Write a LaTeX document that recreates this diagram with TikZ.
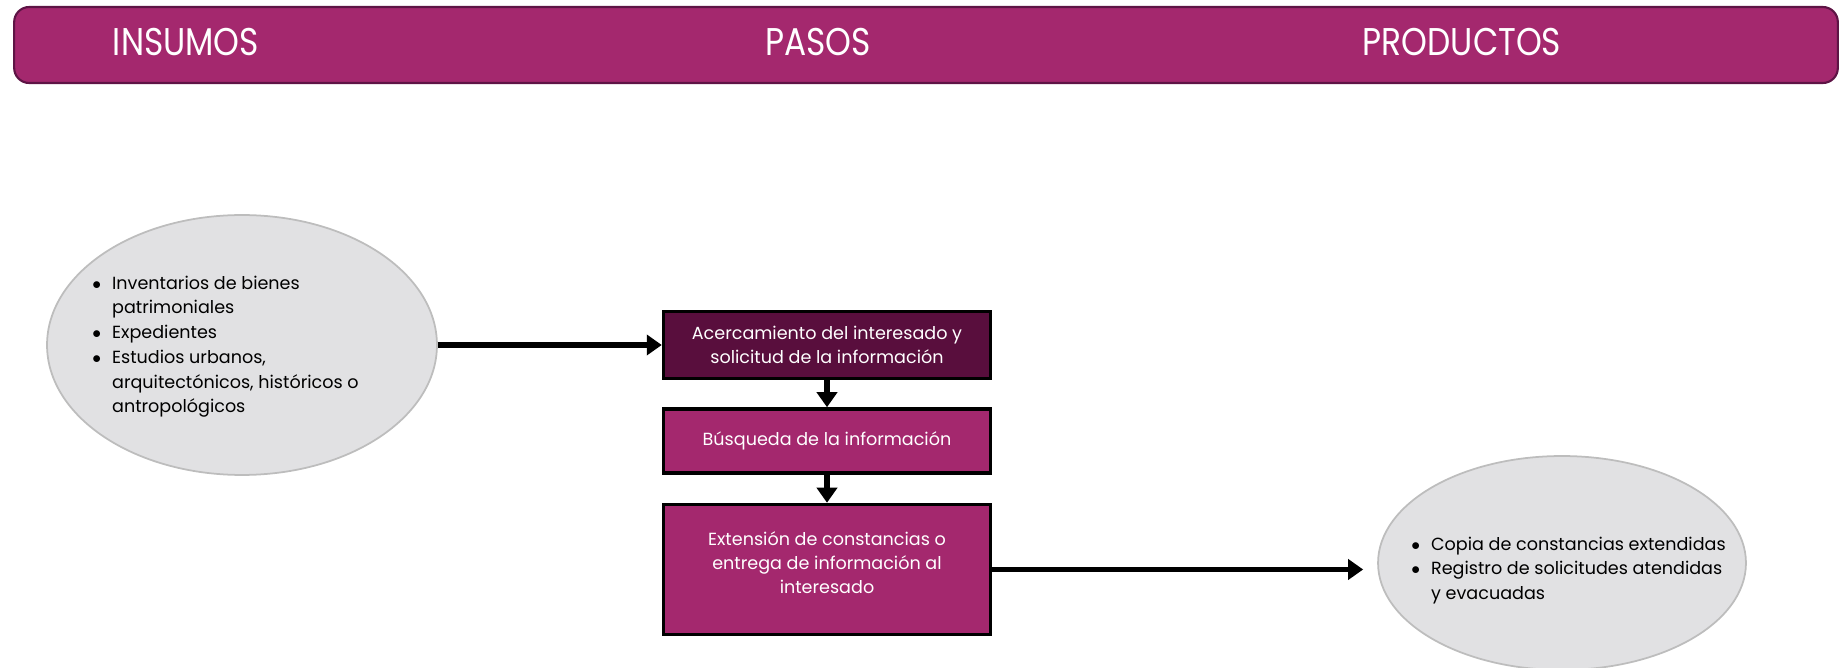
\documentclass[tikz,border=0pt]{standalone}
\usepackage{fontspec}
\setmainfont{Poppins}
\newfontfamily\headfont[FakeStretch=0.85]{Poppins}
\usetikzlibrary{shapes.geometric,arrows.meta,positioning}

\definecolor{morado}{HTML}{A4286E}
\definecolor{moradoOsc}{HTML}{590E3D}
\definecolor{bordeBanda}{HTML}{5E1445}
\definecolor{grisElipse}{HTML}{E1E1E3}
\definecolor{bordeElipse}{HTML}{BDBDBD}

\tikzset{
  banda/.style={draw=bordeBanda, line width=1.2pt, fill=morado, rounded corners=0.3cm,
    minimum width=36.48cm, minimum height=1.52cm},
  titulo/.style={text=white, font=\headfont\fontsize{22}{26}\selectfont},
  paso/.style={draw=black, line width=2pt, fill=morado, text=white, align=center,
    minimum width=6.54cm, inner sep=2pt, font=\fontsize{10}{13.6}\selectfont},
  elipse/.style={ellipse, draw=bordeElipse, line width=1pt, fill=grisElipse, inner sep=0pt},
  lista/.style={anchor=west, inner sep=0pt, font=\fontsize{10}{14.1}\selectfont},
  flecha/.style={line width=3.2pt, -{Triangle[length=0.3cm,width=0.4cm]}}
}
\newcommand{\vineta}{$\bullet$}

\begin{document}
\begin{tikzpicture}[x=0.02cm, y=-0.02cm]
  \useasboundingbox (0,0) rectangle (1842,668);

  % encabezado
  \node[banda] (banda) at (926,45) {};
  \node[titulo] (insumos) at (186,42) {INSUMOS};
  \node[titulo] (pasos) at (818,42) {PASOS};
  \node[titulo] (productos) at (1462,42) {PRODUCTOS};

  % insumos
  \node[elipse, minimum width=7.8cm, minimum height=5.2cm] (ins) at (242,345) {};
  \node[lista] (insTxt) at (92,346) {%
    \begin{tabular}{@{}l@{\hspace{0.22cm}}l@{}}
      \vineta & Inventarios de bienes\\
              & patrimoniales\\
      \vineta & Expedientes\\
      \vineta & Estudios urbanos,\\
              & arquitectónicos, históricos o\\
              & antropológicos
    \end{tabular}};

  % pasos
  \node[paso, fill=moradoOsc, minimum height=1.34cm] (paso1) at (827,345)
    {Acercamiento del interesado y\\solicitud de la información};
  \node[paso, minimum height=1.28cm, below=0.54cm of paso1] (paso2)
    {Búsqueda de la información};
  \node[paso, minimum height=2.6cm, below=0.56cm of paso2] (paso3)
    {Extensión de constancias o\\entrega de información al\\interesado\\[-0.2cm]};

  % productos
  \node[elipse, minimum width=7.36cm, minimum height=4.28cm] (prod) at (1562,563) {};
  \node[lista] (prodTxt) at (1411,570) {%
    \begin{tabular}{@{}l@{\hspace{0.22cm}}l@{}}
      \vineta & Copia de constancias extendidas\\
      \vineta & Registro de solicitudes atendidas\\
              & y evacuadas
    \end{tabular}};

  \draw[flecha] (ins.east) -- (paso1.west);
  \draw[flecha] (paso1.south) -- (paso2.north);
  \draw[flecha] (paso2.south) -- (paso3.north);
  \draw[flecha, shorten >=0.28cm] (paso3.east) -- (paso3.east -| prod.west);
\end{tikzpicture}
\end{document}
